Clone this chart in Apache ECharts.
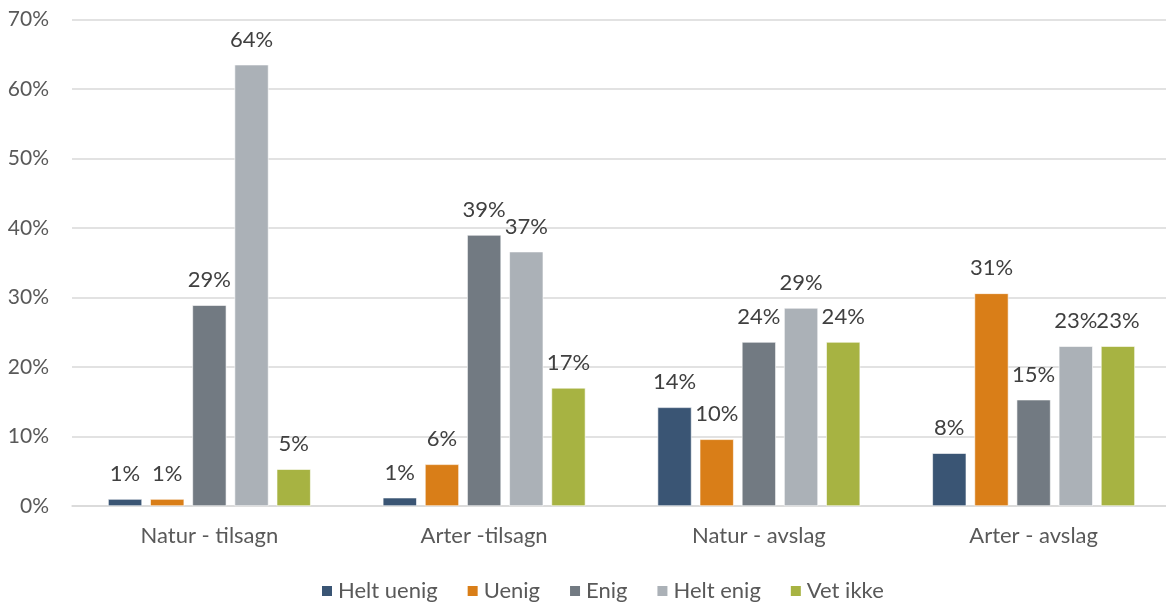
<!DOCTYPE html>
<html>
<head>
<meta charset="utf-8">
<script src="https://cdn.jsdelivr.net/npm/echarts@6/dist/echarts.min.js"></script>
<style>
  html, body { margin: 0; padding: 0; background: #ffffff; overflow: hidden; }
  #chart { width: 1171px; height: 603px; }
</style>
</head>
<body>
<div id="chart"></div>
<script>
// Categories and answer options
const categories = ['Natur - tilsagn', 'Arter -tilsagn', 'Natur - avslag', 'Arter - avslag'];
const seriesNames = ['Helt uenig', 'Uenig', 'Enig', 'Helt enig', 'Vet ikke'];

// Share of respondents (percent) per answer option, one value per category
const heltUenig = [1.0, 1.2, 14.2, 7.6];
const uenig     = [1.0, 6.0, 9.6, 30.6];
const enig      = [28.9, 39.0, 23.6, 15.3];
const heltEnig  = [63.5, 36.6, 28.5, 23.0];
const vetIkke   = [5.3, 17.0, 23.6, 23.0];

// Y axis range (percent)
const yMin = 0;
const yMax = 70;
const yStep = 10;

const colors = ['#3A5574', '#D97E18', '#727A82', '#ABB1B7', '#A7B342'];
const values = [heltUenig, uenig, enig, heltEnig, vetIkke];

const fontFamily = 'Lato, "Open Sans", sans-serif';

const chart = echarts.init(document.getElementById('chart'), null, { renderer: 'canvas' });

chart.setOption({
  animation: false,
  backgroundColor: '#ffffff',
  color: colors,
  grid: { left: 72, right: 0, top: 19.5, bottom: 97, containLabel: false },
  legend: {
    data: seriesNames,
    top: 580,
    left: 320,
    padding: 0,
    icon: 'rect',
    itemWidth: 12,
    itemHeight: 12,
    itemGap: 28,
    textStyle: { fontFamily, fontSize: 22, color: '#595959', padding: [0, 0, 0, 0] }
  },
  xAxis: {
    type: 'category',
    data: categories,
    axisLine: { show: true, lineStyle: { color: '#D9D9D9', width: 1.5 } },
    axisTick: { show: false },
    axisLabel: { fontFamily, fontSize: 22, color: '#595959', margin: 19 }
  },
  yAxis: {
    type: 'value',
    min: yMin,
    max: yMax,
    interval: yStep,
    axisLine: { show: false },
    axisTick: { show: false },
    splitLine: { lineStyle: { color: '#D9D9D9', width: 1.5 } },
    axisLabel: {
      fontFamily, fontSize: 21, color: '#595959', margin: 23,
      formatter: v => v + '%'
    }
  },
  series: seriesNames.map((name, i) => ({
    name,
    type: 'bar',
    data: values[i],
    barWidth: 34,
    barGap: '24%',
    itemStyle: { color: colors[i], borderColor: '#ffffff', borderWidth: 0.6 },
    label: {
      show: true,
      position: 'top',
      distance: 14,
      fontFamily,
      fontSize: 22,
      color: '#404040',
      formatter: p => Math.round(p.value) + '%'
    }
  }))
});
</script>
</body>
</html>
